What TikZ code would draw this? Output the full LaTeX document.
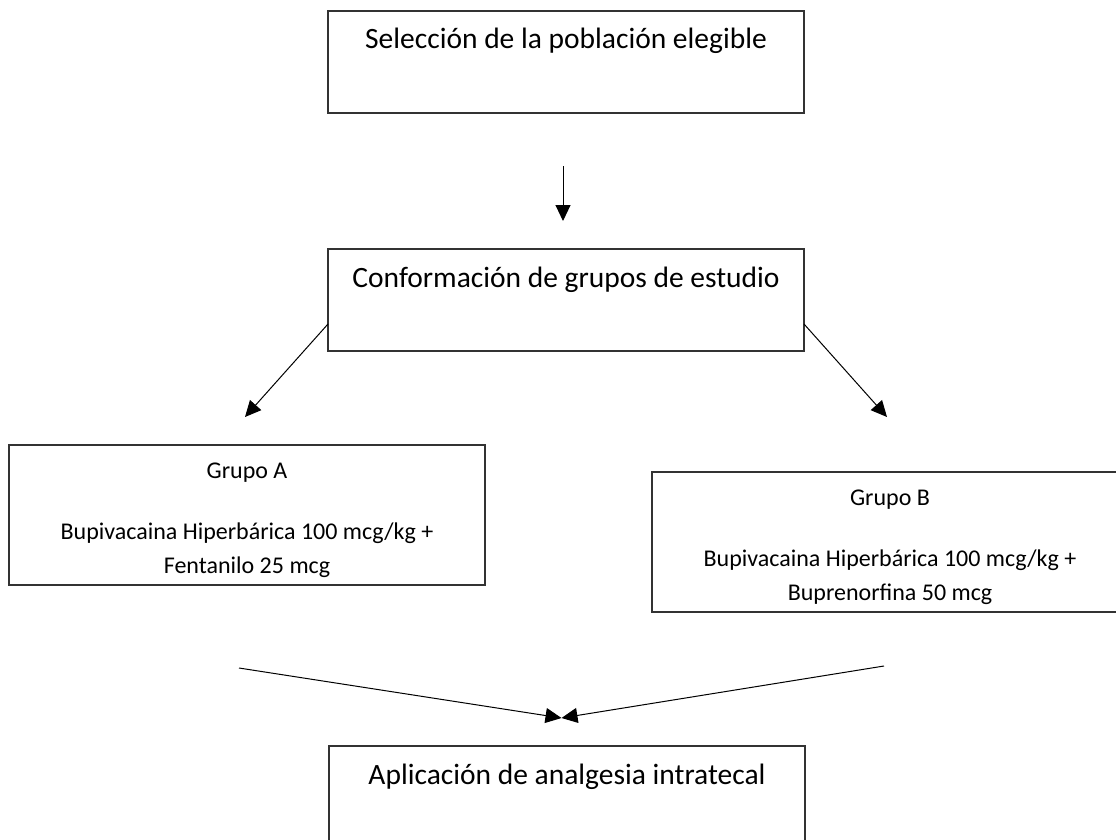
\documentclass[tikz,border=0pt]{standalone}
\usepackage{fontspec}
\setmainfont{Carlito}
\usetikzlibrary{arrows.meta}
\begin{document}
\begin{tikzpicture}[x=1pt,y=-1pt,
  box/.style={draw=black!80, line width=1.3pt, anchor=north west, inner sep=0pt, outer sep=0pt, minimum width=476pt},
  big/.style={font=\fontsize{29.5}{35}\selectfont, anchor=base, inner sep=0pt},
  small/.style={font=\fontsize{24}{28}\selectfont, anchor=base, inner sep=0pt},
  arr/.style={draw=black, line width=1pt, -{Triangle[length=16pt,width=15pt]}}]
\useasboundingbox (0,0) rectangle (1116,840);
% boxes
\node[box, minimum height=102pt] (b1) at (328,11) {};
\node[box, minimum height=102pt] (b2) at (328,249) {};
\node[box, minimum height=140pt] (bA) at (9,445) {};
\node[box, minimum height=140pt] (bB) at (652,472) {};
\node[box, minimum height=102pt] (b5) at (329,746) {};
% texts
\node[big] (t1) at (566,49) {Selección de la población elegible};
\node[big] (t2) at (566,287) {Conformación de grupos de estudio};
\node[small] (tA1) at (247,478) {Grupo A};
\node[small] (tA2) at (247,539) {Bupivacaina Hiperbárica 100 mcg/kg +};
\node[small] (tA3) at (247,573) {Fentanilo 25 mcg};
\node[small] (tB1) at (890,505) {Grupo B};
\node[small] (tB2) at (890,566) {Bupivacaina Hiperbárica 100 mcg/kg +};
\node[small] (tB3) at (890,600) {Buprenorfina 50 mcg};
\node[big] (t5) at (567,784) {Aplicación de analgesia intratecal};
% connector end points
\coordinate (v1) at (563,166);
\coordinate (v2) at (563,221);
\coordinate (dl1) at (328,324);
\coordinate (dl2) at (245,417);
\coordinate (dr1) at (804,324);
\coordinate (dr2) at (887,417);
\coordinate (cl) at (239,668);
\coordinate (cr) at (884,666);
\coordinate (m) at (561.5,718);
% connectors
\draw[arr] (v1) -- (v2);
\draw[arr] (dl1) -- (dl2);
\draw[arr] (dr1) -- (dr2);
\draw[arr] (cl) -- (m);
\draw[arr] (cr) -- (m);
\end{tikzpicture}
\end{document}
